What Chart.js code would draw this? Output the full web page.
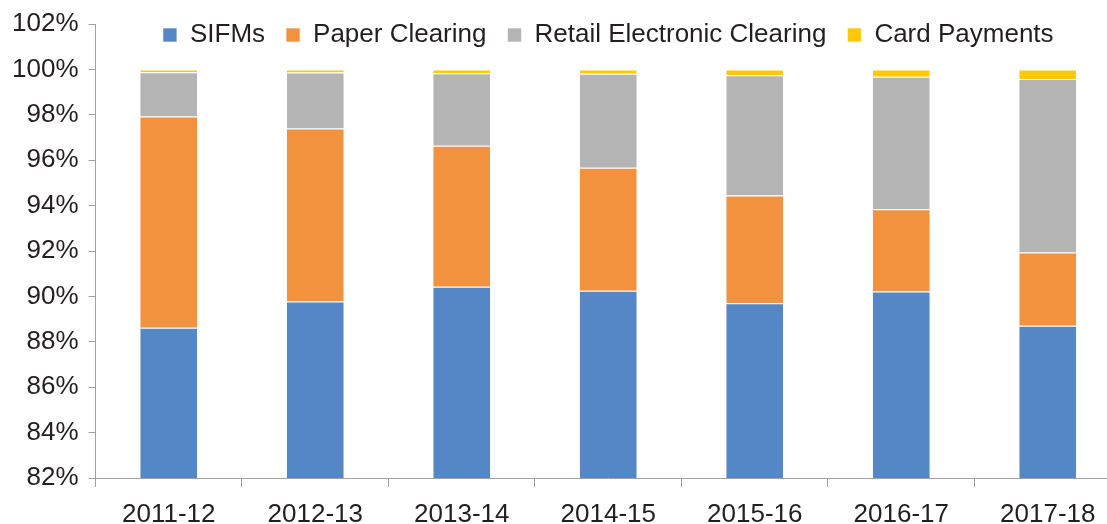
<!DOCTYPE html>
<html>
<head>
<meta charset="utf-8">
<script src="https://cdn.jsdelivr.net/npm/chart.js@4"></script>
<style>
  html, body { margin: 0; padding: 0; background: #fff; overflow: hidden; }
  #wrap { width: 1121px; height: 543px; position: relative; }
</style>
</head>
<body>
<div id="wrap"><canvas id="shareChart"></canvas></div>
<script>
const years = ["2011-12", "2012-13", "2013-14", "2014-15", "2015-16", "2016-17", "2017-18"];
const sifms = [88.62, 89.77, 90.43, 90.25, 89.70, 90.22, 88.71];
const paperClearing = [9.30, 7.63, 6.21, 5.42, 4.75, 3.62, 3.22];
const retailElectronic = [1.95, 2.46, 3.19, 4.14, 5.29, 5.84, 7.65];
const cardPayments = [0.13, 0.14, 0.17, 0.19, 0.26, 0.32, 0.42];
const yTicks = [82, 84, 86, 88, 90, 92, 94, 96, 98, 100, 102];

const FONT = "'Liberation Sans', Arial, Helvetica, sans-serif";
const AXIS_GREY = "#a0a0a0";

// legend sits over the top of the bars: give it a tiny box and don't clip it
const legendOverlay = {
  id: "legendOverlay",
  beforeInit(chart) {
    const lg = chart.legend;
    const origFit = lg.fit;
    lg.fit = function () {
      origFit.bind(lg)();
      this.height = 23;
    };
    lg.draw = function () {
      if (this.options.display) this._draw();
    };
  }
};

function series(label, data, color) {
  return {
    label: label,
    data: data,
    backgroundColor: color,
    borderColor: "rgba(255,255,255,0.6)",
    borderWidth: 1,
    barPercentage: 0.4,
    categoryPercentage: 1.0
  };
}

const ctx = document.getElementById("shareChart").getContext("2d");

new Chart(ctx, {
  type: "bar",
  data: {
    labels: years,
    datasets: [
      series("SIFMs", sifms, "#5586c6"),
      series("Paper Clearing", paperClearing, "#f2923f"),
      series("Retail Electronic Clearing", retailElectronic, "#b4b4b4"),
      series("Card Payments", cardPayments, "#ffc90a")
    ]
  },
  options: {
    responsive: true,
    maintainAspectRatio: false,
    animation: false,
    layout: { padding: { top: 1, left: 2, right: 0, bottom: 0 } },
    plugins: {
      tooltip: { enabled: false },
      legend: {
        position: "top",
        fullSize: false,
        align: "center",
        labels: {
          boxWidth: 14,
          boxHeight: 14,
          padding: 21,
          color: "#231f20",
          font: { family: FONT, size: 26, lineHeight: 1 }
        }
      }
    },
    scales: {
      x: {
        stacked: true,
        grid: {
          display: true,
          drawOnChartArea: false,
          drawTicks: true,
          tickLength: 9,
          color: AXIS_GREY
        },
        border: { color: AXIS_GREY, width: 1 },
        ticks: {
          color: "#231f20",
          padding: 15,
          maxRotation: 0,
          font: { family: FONT, size: 26, lineHeight: 1 }
        }
      },
      y: {
        stacked: true,
        min: 82,
        max: 102,
        afterBuildTicks(axis) {
          axis.ticks = yTicks.map(v => ({ value: v }));
        },
        grid: {
          display: true,
          drawOnChartArea: false,
          drawTicks: true,
          tickLength: 7,
          color: AXIS_GREY
        },
        border: { color: AXIS_GREY, width: 1 },
        ticks: {
          color: "#231f20",
          padding: 10,
          callback: v => v + "%",
          font: { family: FONT, size: 26, lineHeight: 1 }
        }
      }
    }
  },
  plugins: [legendOverlay]
});
</script>
</body>
</html>
